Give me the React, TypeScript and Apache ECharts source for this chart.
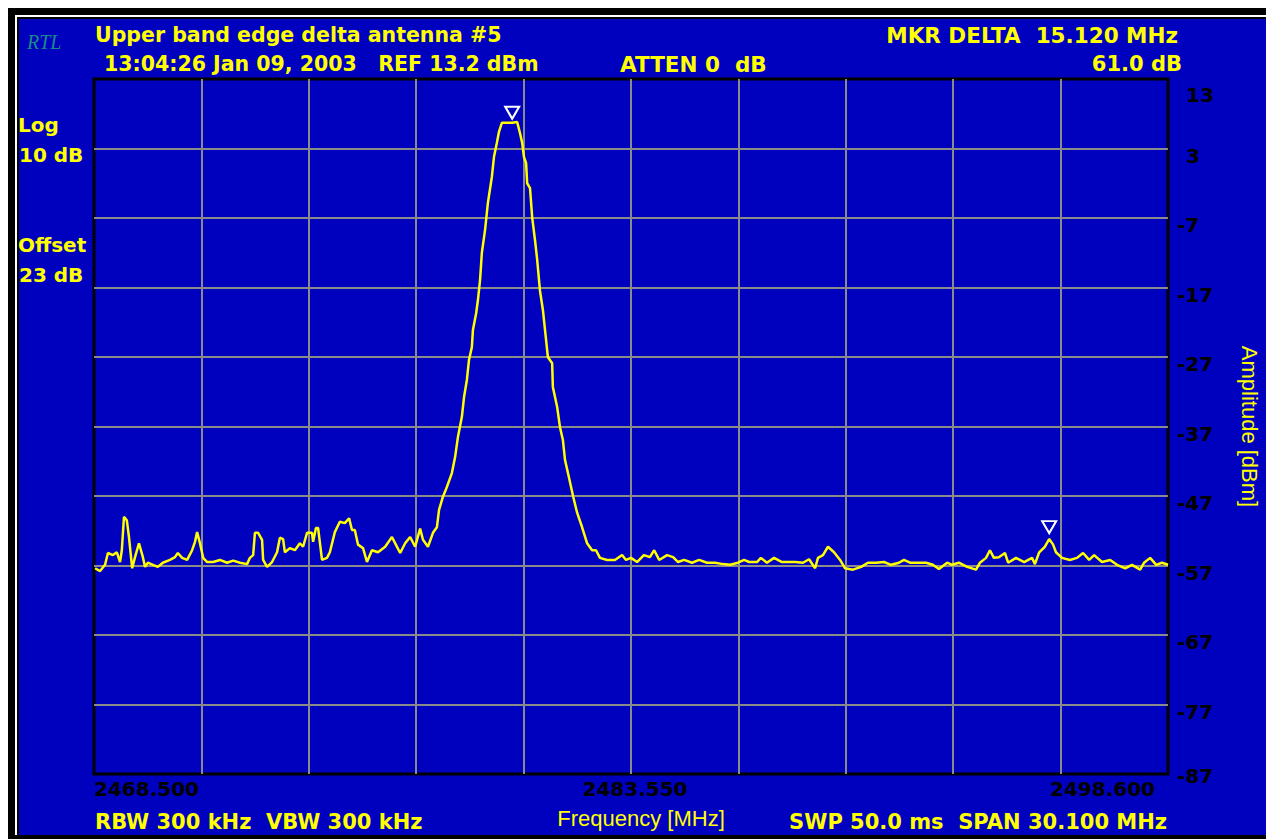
import React, { useEffect, useRef } from "react";
import * as echarts from "echarts";

// ---- Texts ----
const TITLE = "Upper band edge delta antenna #5";
const SUBTITLE = "13:04:26 Jan 09, 2003   REF 13.2 dBm";
const ATTEN = "ATTEN 0  dB";
const MKR_LINE1 = "MKR DELTA  15.120 MHz";
const MKR_LINE2 = "61.0 dB";
const LEFT_NOTES = ["Log", "10 dB", "Offset", "23 dB"];
const BOTTOM_LEFT = "RBW 300 kHz  VBW 300 kHz";
const BOTTOM_RIGHT = "SWP 50.0 ms  SPAN 30.100 MHz";
const X_NAME = "Frequency [MHz]";
const Y_NAME = "Amplitude [dBm]";
const LOGO = "RTL";

// ---- Axes ----
const FREQ_MIN = 2468.5;
const FREQ_MAX = 2498.6;
const FREQ_STEP = 3.01;
const X_LABEL_TICKS = [0, 5, 10];
const AMP_MIN = -87;
const AMP_MAX = 13;
const AMP_STEP = 10;

// ---- Trace (MHz, dBm) ----
const freqs = [
  2468.53, 2468.67, 2468.81, 2468.89, 2469.03, 2469.14, 2469.23, 2469.28, 2469.34, 2469.42,
  2469.48, 2469.57, 2469.65, 2469.76, 2469.87, 2469.93, 2470.01, 2470.15, 2470.29, 2470.43,
  2470.63, 2470.77, 2470.85, 2470.97, 2471.11, 2471.25, 2471.33, 2471.39, 2471.47, 2471.56,
  2471.67, 2471.84, 2472.03, 2472.23, 2472.40, 2472.59, 2472.79, 2472.87, 2472.96, 2473.01,
  2473.10, 2473.21, 2473.24, 2473.35, 2473.49, 2473.63, 2473.71, 2473.80, 2473.85, 2473.99,
  2474.13, 2474.27, 2474.36, 2474.47, 2474.61, 2474.64, 2474.72, 2474.78, 2474.89, 2475.03,
  2475.11, 2475.25, 2475.39, 2475.53, 2475.65, 2475.73, 2475.81, 2475.90, 2476.04, 2476.15,
  2476.29, 2476.46, 2476.66, 2476.85, 2476.96, 2477.08, 2477.22, 2477.36, 2477.50, 2477.64,
  2477.72, 2477.86, 2478.00, 2478.11, 2478.17, 2478.28, 2478.39, 2478.53, 2478.62, 2478.70,
  2478.81, 2478.87, 2478.95, 2479.01, 2479.09, 2479.12, 2479.21, 2479.26, 2479.32, 2479.37,
  2479.46, 2479.54, 2479.65, 2479.71, 2479.79, 2479.85, 2479.93, 2480.08, 2480.22, 2480.36,
  2480.44, 2480.50, 2480.55, 2480.61, 2480.64, 2480.72, 2480.78, 2480.86, 2480.92, 2481.00,
  2481.08, 2481.14, 2481.22, 2481.34, 2481.36, 2481.48, 2481.56, 2481.64, 2481.70, 2481.81,
  2481.93, 2482.04, 2482.18, 2482.32, 2482.46, 2482.57, 2482.68, 2482.88, 2483.10, 2483.30,
  2483.41, 2483.55, 2483.72, 2483.91, 2484.08, 2484.20, 2484.34, 2484.56, 2484.73, 2484.87,
  2485.04, 2485.26, 2485.46, 2485.68, 2485.90, 2486.13, 2486.33, 2486.55, 2486.72, 2486.86,
  2487.08, 2487.19, 2487.36, 2487.56, 2487.78, 2488.01, 2488.15, 2488.37, 2488.54, 2488.71,
  2488.79, 2488.93, 2489.07, 2489.24, 2489.41, 2489.55, 2489.77, 2490.00, 2490.19, 2490.42,
  2490.64, 2490.84, 2491.06, 2491.20, 2491.37, 2491.59, 2491.82, 2492.01, 2492.18, 2492.41,
  2492.55, 2492.74, 2492.97, 2493.22, 2493.33, 2493.50, 2493.61, 2493.72, 2493.86, 2494.03,
  2494.12, 2494.34, 2494.57, 2494.79, 2494.87, 2494.99, 2495.15, 2495.27, 2495.38, 2495.46,
  2495.63, 2495.85, 2496.05, 2496.22, 2496.39, 2496.53, 2496.75, 2496.98, 2497.17, 2497.40,
  2497.59, 2497.82, 2497.93, 2498.10, 2498.27, 2498.43, 2498.60,
];
const amps = [
  -57.4, -57.8, -56.9, -55.2, -55.5, -55.1, -56.5, -54.8, -50.0, -50.5,
  -52.9, -57.4, -55.8, -53.8, -55.8, -57.2, -56.6, -56.9, -57.2, -56.6,
  -56.2, -55.8, -55.2, -55.9, -56.2, -54.8, -53.6, -52.2, -53.8, -55.9,
  -56.5, -56.5, -56.2, -56.6, -56.3, -56.6, -56.8, -55.9, -55.5, -52.3,
  -52.3, -53.3, -56.2, -57.2, -56.5, -55.1, -53.0, -53.2, -55.1, -54.5,
  -54.8, -53.8, -54.3, -52.3, -52.3, -53.6, -51.6, -51.6, -56.2, -55.9,
  -55.1, -52.2, -50.7, -50.9, -50.2, -51.9, -51.9, -54.0, -54.5, -56.5,
  -54.8, -55.1, -54.3, -52.9, -54.0, -55.2, -53.8, -52.9, -54.3, -51.7,
  -53.3, -54.3, -52.3, -51.5, -49.0, -47.1, -45.7, -43.7, -41.4, -38.5,
  -35.6, -32.8, -30.3, -27.4, -25.6, -23.1, -20.7, -18.8, -15.9, -12.0,
  -8.7, -4.8, -1.1, 1.8, 3.8, 5.4, 6.7, 6.7, 6.7, 6.8,
  5.2, 3.8, 1.8, 0.9, -2.0, -2.7, -6.9, -10.2, -13.0, -17.5,
  -20.2, -23.1, -27.0, -27.9, -31.3, -34.2, -37.1, -38.9, -41.8, -44.3,
  -47.1, -49.4, -51.5, -53.8, -54.8, -54.8, -55.9, -56.2, -56.2, -55.5,
  -56.2, -55.9, -56.5, -55.5, -55.8, -54.8, -56.2, -55.5, -55.8, -56.5,
  -56.2, -56.6, -56.2, -56.6, -56.6, -56.8, -56.9, -56.6, -56.2, -56.5,
  -56.5, -55.9, -56.6, -55.9, -56.5, -56.5, -56.5, -56.6, -56.1, -57.4,
  -55.9, -55.5, -54.3, -55.1, -56.2, -57.4, -57.6, -57.2, -56.6, -56.6,
  -56.5, -56.9, -56.6, -56.2, -56.6, -56.6, -56.6, -56.9, -57.5, -56.6,
  -56.9, -56.6, -57.2, -57.6, -56.6, -55.9, -54.8, -55.9, -55.8, -55.2,
  -56.6, -55.9, -56.5, -55.9, -56.8, -55.1, -54.3, -53.2, -54.0, -55.1,
  -55.9, -56.2, -55.9, -55.2, -56.2, -55.5, -56.5, -56.2, -56.9, -57.4,
  -56.9, -57.6, -56.6, -55.9, -56.9, -56.6, -56.9,
];

// ---- Markers ----
const markerFreqs = [2480.22, 2495.27];
const markerAmps = [6.7, -53.2];

// ---- Colors ----
const BLUE = "#0000BF";
const YELLOW = "#FFFF00";
const GRID_GRAY = "#8A8A8A";
const TEAL = "#168C8C";

const boldFont = (px: number) => `bold ${px}px "DejaVu Sans"`;

function txt(text: string, x: number, y: number, align: string, font = boldFont(20), fill = YELLOW) {
  return {
    type: "text",
    x,
    y,
    silent: true,
    z: 10,
    style: { text, fill, font, align, textAlign: align, verticalAlign: "middle", textVerticalAlign: "middle" },
  };
}

export default function App() {
  const ref = useRef<HTMLDivElement>(null);

  useEffect(() => {
    if (!ref.current) return;
    const chart = echarts.init(ref.current, undefined, { renderer: "svg" });
    const W = 1258;
    const H = 831;
    const data = freqs.map((f, i) => [f, amps[i]]);
    const tickFont = { fontFamily: "DejaVu Sans", fontWeight: "bold" as const, fontSize: 20, color: "#000" };

    chart.setOption({
      animation: false,
      backgroundColor: BLUE,
      grid: {
        left: 86,
        top: 71,
        right: 98,
        bottom: 65,
        show: true,
        borderColor: "#000",
        borderWidth: 3,
        backgroundColor: "transparent",
        containLabel: false,
        outerBoundsMode: "none",
      },
      xAxis: {
        type: "value",
        min: FREQ_MIN,
        max: FREQ_MAX,
        interval: FREQ_STEP,
        name: X_NAME,
        nameLocation: "middle",
        nameGap: 33,
        nameTextStyle: { color: YELLOW, fontFamily: "Liberation Sans", fontSize: 22, padding: [0, 0, 0, 20] },
        axisLine: { show: false },
        axisTick: { show: false },
        splitLine: { show: true, showMinLine: false, showMaxLine: false, lineStyle: { color: GRID_GRAY, width: 2 } },
        axisLabel: {
          ...tickFont,
          margin: 5,
          alignMinLabel: "left",
          alignMaxLabel: "right",
          formatter: (v: number, i: number) => {
            if (!X_LABEL_TICKS.includes(i)) return "";
            const s = v.toFixed(3);
            if (i === X_LABEL_TICKS[X_LABEL_TICKS.length - 1]) return `{r|${s}}`;
            if (i === X_LABEL_TICKS[0]) return s;
            return `{m|${s}}`;
          },
          rich: {
            r: { ...tickFont, padding: [0, 13, 0, 0] },
            m: { ...tickFont, padding: [0, 0, 0, 8] },
          },
        },
      },
      yAxis: {
        type: "value",
        position: "right",
        min: AMP_MIN,
        max: AMP_MAX,
        interval: AMP_STEP,
        name: Y_NAME,
        nameLocation: "middle",
        nameRotate: -90,
        nameGap: 70,
        nameTextStyle: { color: YELLOW, fontFamily: "Liberation Sans", fontSize: 22 },
        axisLine: { show: false },
        axisTick: { show: false },
        splitLine: { show: true, showMinLine: false, showMaxLine: false, lineStyle: { color: GRID_GRAY, width: 2 } },
        axisLabel: {
          ...tickFont,
          margin: 9,
          align: "left",
          formatter: (v: number) => {
            const s = String(Math.round(v));
            if (v >= AMP_MAX - 0.5) return `{t|${s}}`;
            if (v <= AMP_MIN + 0.5) return `{b|${s}}`;
            return v >= 0 ? `{p|${s}}` : `{n|${s}}`;
          },
          rich: {
            t: { ...tickFont, padding: [32, 0, 0, 9] },
            p: { ...tickFont, padding: [14, 0, 0, 9] },
            n: { ...tickFont, padding: [14, 0, 0, 0] },
            b: { ...tickFont, padding: [4, 0, 0, 0] },
          },
        },
      },
      series: [
        {
          type: "line",
          data,
          symbol: "none",
          lineStyle: { color: YELLOW, width: 2.5 },
          itemStyle: { color: YELLOW },
          z: 5,
          markPoint: {
            symbol: "triangle",
            symbolRotate: 180,
            symbolSize: [14, 12],
            itemStyle: { color: "rgba(0,0,0,0)", borderColor: "#FFFFFF", borderWidth: 2 },
            label: { show: false },
            data: markerFreqs.map((f, i) => ({
              coord: [f, markerAmps[i]],
              symbolOffset: [0, i === 0 ? -10 : -12],
            })),
          },
        },
      ],
      graphic: [
        // frame
        { type: "rect", silent: true, z: 1, shape: { x: 0, y: 0, width: W, height: 11 }, style: { fill: "#000" } },
        { type: "rect", silent: true, z: 1, shape: { x: 0, y: 0, width: 11, height: H }, style: { fill: "#000" } },
        { type: "rect", silent: true, z: 1, shape: { x: 0, y: 827, width: W, height: 4 }, style: { fill: "#000" } },
        { type: "rect", silent: true, z: 2, shape: { x: 7, y: 7, width: W, height: 2 }, style: { fill: "#FFF" } },
        { type: "rect", silent: true, z: 2, shape: { x: 7, y: 7, width: 2, height: 820 }, style: { fill: "#FFF" } },
        // logo
        txt(LOGO, 19, 34, "left", 'italic 20px "Liberation Serif"', TEAL),
        // header
        txt(TITLE, 87, 27, "left", boldFont(20.5)),
        txt(SUBTITLE, 96, 56, "left", boldFont(20.5)),
        txt(ATTEN, 612, 56, "left", boldFont(21.5)),
        txt(MKR_LINE1, 1170, 27, "right", boldFont(21.5)),
        txt(MKR_LINE2, 1174, 56, "right", boldFont(21)),
        // left notes
        txt(LEFT_NOTES[0], 10, 117, "left"),
        txt(LEFT_NOTES[1], 11, 147, "left"),
        txt(LEFT_NOTES[2], 10, 237, "left"),
        txt(LEFT_NOTES[3], 11, 267, "left"),
        // bottom
        txt(BOTTOM_LEFT, 87, 814, "left", boldFont(21)),
        txt(BOTTOM_RIGHT, 1159, 814, "right", boldFont(21)),
      ],
    });

    return () => chart.dispose();
  }, []);

  return (
    <div
      ref={ref}
      style={{ position: "fixed", left: 8, top: 8, width: 1258, height: 831 }}
    />
  );
}
